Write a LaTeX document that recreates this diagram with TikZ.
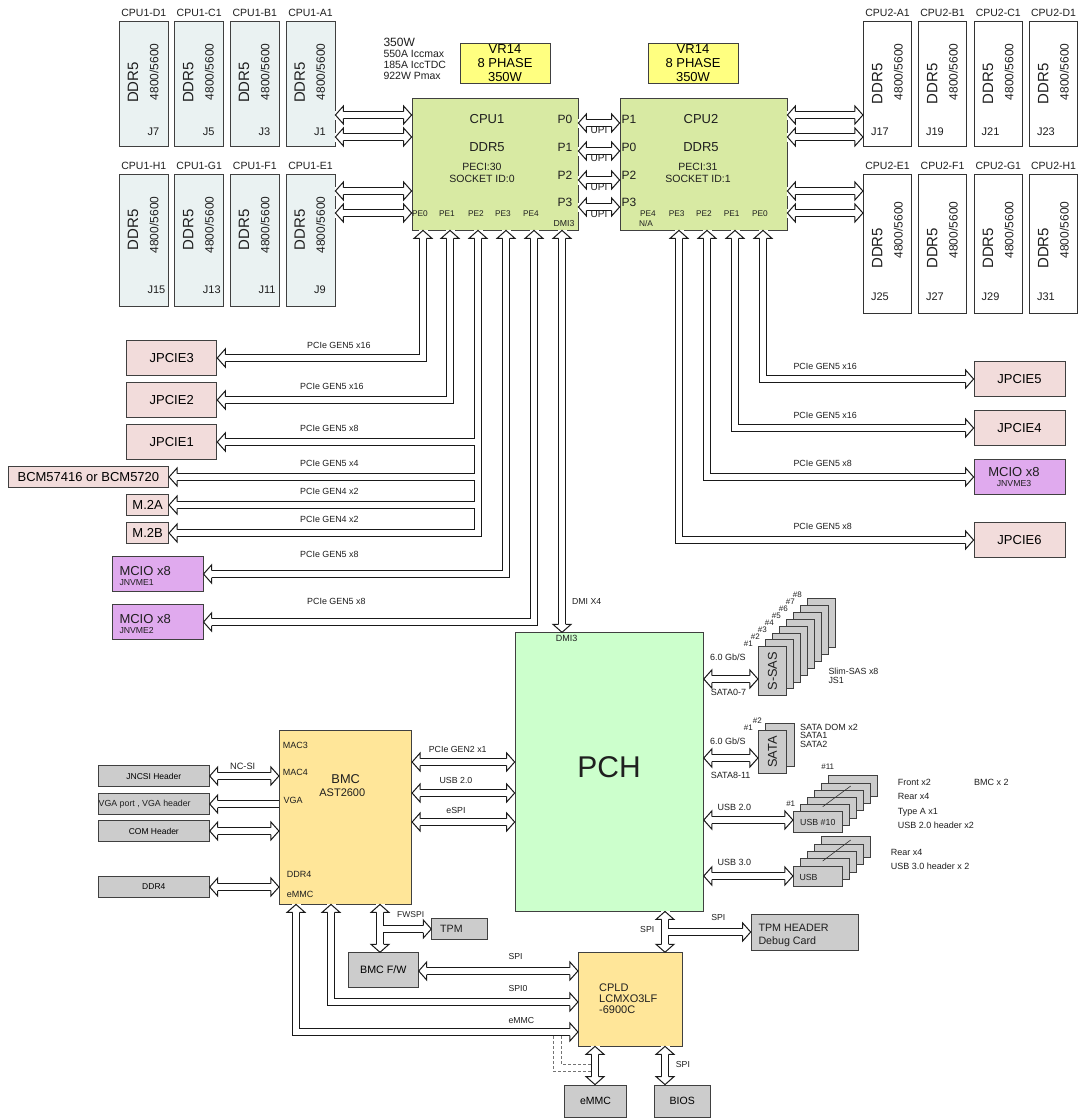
\documentclass[tikz,border=0pt]{standalone}
\usepackage{fontspec}
\setmainfont{Liberation Sans}
\definecolor{dimmfill}{RGB}{234,242,242}
\definecolor{cpufill}{RGB}{216,234,163}
\definecolor{vrfill}{RGB}{255,255,128}
\definecolor{slotfill}{RGB}{242,220,219}
\definecolor{mciofill}{RGB}{224,170,238}
\definecolor{pchfill}{RGB}{204,255,204}
\definecolor{bmcfill}{RGB}{255,230,153}
\definecolor{grayfill}{RGB}{204,204,204}
\definecolor{edge}{RGB}{64,64,64}
\newcommand\fsz[1]{\fontsize{#1}{#1}\selectfont}
% head of a bus at a point, turned by an angle
\newcommand\hdat[2]{\pic[rotate=#2] at (#1) {hd};}
% bus with heads at both ends / at the far end only
\newcommand\bibus[5]{\draw[bus] (#1) #2 (#3); \hdat{#1}{#4}\hdat{#3}{#5}}
\newcommand\unibus[4]{\draw[bus] (#1) #2 (#3); \hdat{#3}{#4}}
\tikzset{
  box/.style={draw=edge, line width=.8pt, inner sep=0pt, align=center},
  dimm/.style={box, fill=dimmfill, minimum width=49},
  dimmw/.style={box, draw=black!80, fill=white, minimum width=48.5},
  cpu/.style={box, fill=cpufill, minimum height=132},
  vr/.style={box, fill=vrfill, minimum width=90, minimum height=40, font=\fontsize{13}{14}\selectfont},
  slot/.style={box, fill=slotfill, font=\fsz{13}},
  mcio/.style={box, fill=mciofill, minimum width=90.6, minimum height=35},
  chip/.style={box, fill=bmcfill},
  gbox/.style={box, fill=grayfill},
  lbl/.style={inner sep=0pt, text=black!88},
  bus/.style={draw=white, line width=6pt, preaction={draw=black!90, line width=8pt}},
  hd/.pic={\fill[white] (-8pt,-4.5pt) rectangle (0pt,4.5pt);
    \path[draw=black!90, fill=white, line width=1pt]
    (-8pt,3.5pt) -- (-8pt,9pt) -- (0pt,0pt) -- (-8pt,-9pt) -- (-8pt,-3.5pt);},
  dashline/.style={draw=black!55, densely dashed, line width=.7pt},
}
\begin{document}
\begin{tikzpicture}[x=1pt, y=-1pt]
\useasboundingbox (0,0) rectangle (1081,1119);
\fill[white] (0,0) rectangle (1081,1119);

% memory of CPU1
\foreach \xx/\sl/\jj in {119.3/D1/J7, 174.7/C1/J5, 230.3/B1/J3, 286/A1/J1} {
  \node[dimm, minimum height=125] (c1\sl) at (\xx+24.5,84.2) {};
  \node[lbl, font=\fsz{10.5}] at (\xx+24.5,12.7) {CPU1-\sl};
  \node[lbl, rotate=90, font=\fsz{15}] at (\xx+13.7,82.5) {DDR5};
  \node[lbl, rotate=90, font=\fsz{12}] at (\xx+34.7,71.7) {4800/5600};
  \node[lbl, anchor=west, font=\fsz{11}] at (\xx+28,131.7) {\jj};
}
\foreach \xx/\sl/\jj in {119.3/H1/J15, 174.7/G1/J13, 230.3/F1/J11, 286/E1/J9} {
  \node[dimm, minimum height=132.7] (c1\sl) at (\xx+24.5,240.3) {};
  \node[lbl, font=\fsz{10.5}] at (\xx+24.5,165.7) {CPU1-\sl};
  \node[lbl, rotate=90, font=\fsz{15}] at (\xx+13.7,230) {DDR5};
  \node[lbl, rotate=90, font=\fsz{12}] at (\xx+34.7,225) {4800/5600};
  \node[lbl, anchor=west, font=\fsz{11}] at (\xx+28,290) {\jj};
}
% memory of CPU2
\foreach \xx/\sl/\jj in {863.3/A1/J17, 918.3/B1/J19, 974/C1/J21, 1029.3/D1/J23} {
  \node[dimmw, minimum height=125] (c2\sl) at (\xx+24.25,84.2) {};
  \node[lbl, font=\fsz{10.5}] at (\xx+24.25,12.7) {CPU2-\sl};
  \node[lbl, rotate=90, font=\fsz{15}] at (\xx+14,84) {DDR5};
  \node[lbl, rotate=90, font=\fsz{12}] at (\xx+35,71.7) {4800/5600};
  \node[lbl, anchor=west, font=\fsz{11}] at (\xx+7.5,131.7) {\jj};
}
\foreach \xx/\sl/\jj in {863.3/E1/J25, 918.3/F1/J27, 974/G1/J29, 1029.3/H1/J31} {
  \node[dimmw, minimum height=139.3] (c2\sl) at (\xx+24.25,243.7) {};
  \node[lbl, font=\fsz{10.5}] at (\xx+24.25,165.7) {CPU2-\sl};
  \node[lbl, rotate=90, font=\fsz{15}] at (\xx+14,248.3) {DDR5};
  \node[lbl, rotate=90, font=\fsz{12}] at (\xx+35,230) {4800/5600};
  \node[lbl, anchor=west, font=\fsz{11}] at (\xx+7.5,296.7) {\jj};
}

% power
\node[vr] (vr1) at (505,63) {VR14\\8 PHASE\\350W};
\node[vr] (vr2) at (693,63) {VR14\\8 PHASE\\350W};
\node[lbl, anchor=west, font=\fsz{12}] at (383.3,42.7) {350W};
\node[lbl, anchor=west, align=left, font=\fontsize{10.5}{10.8}\selectfont] at (383.3,65) {550A Iccmax\\185A IccTDC\\922W Pmax};

% processors
\node[cpu, minimum width=166] (cpu1) at (495,164) {};
\node[cpu, minimum width=167] (cpu2) at (703.5,164) {};
\node[lbl, font=\fsz{13}] at (487,119.3) {CPU1};
\node[lbl, font=\fsz{13}] at (487,147.3) {DDR5};
\node[lbl, font=\fsz{10.5}] at (482,166.7) {PECI:30};
\node[lbl, font=\fsz{10.5}] at (482,179) {SOCKET ID:0};
\node[lbl, font=\fsz{13}] at (701,119.3) {CPU2};
\node[lbl, font=\fsz{13}] at (701,147.3) {DDR5};
\node[lbl, font=\fsz{10.5}] at (698,166.7) {PECI:31};
\node[lbl, font=\fsz{10.5}] at (698,179) {SOCKET ID:1};
\foreach \yy/\pa/\pb in {119.3/P0/P1, 147.3/P1/P0, 175/P2/P2, 202.7/P3/P3} {
  \node[lbl, font=\fsz{12}] at (565,\yy) {\pa};
  \node[lbl, font=\fsz{12}] at (629,\yy) {\pb};
}
\foreach \xx/\pe in {420/PE0, 447/PE1, 476/PE2, 503/PE3, 531/PE4}
  \node[lbl, font=\fsz{8.3}] at (\xx,213.3) {\pe};
\foreach \xx/\pe in {648/PE4, 676.7/PE3, 704/PE2, 731.7/PE1, 760/PE0}
  \node[lbl, font=\fsz{8.3}] at (\xx,213.3) {\pe};
\node[lbl, font=\fsz{8.3}] at (646,224) {N/A};
\node[lbl, font=\fsz{8.7}] at (564,223.3) {DMI3};

% memory and UPI links
\foreach \yy in {115,137} {\bibus{c1A1.east |- 0,\yy}{--}{cpu1.west |- 0,\yy}{180}{0}}
\foreach \yy in {191,213} {\bibus{c1E1.east |- 0,\yy}{--}{cpu1.west |- 0,\yy}{180}{0}}
\foreach \yy in {115,137} {\bibus{cpu2.east |- 0,\yy}{--}{c2A1.west |- 0,\yy}{180}{0}}
\foreach \yy in {191,213} {\bibus{cpu2.east |- 0,\yy}{--}{c2E1.west |- 0,\yy}{180}{0}}
\foreach \yy in {123,151,180,207} {
  \bibus{cpu1.east |- 0,\yy}{--}{cpu2.west |- 0,\yy}{180}{0}
  \node[lbl, font=\fsz{10}] at (599,\yy+7) {UPI};
}

% PCIe devices
\node[slot, minimum width=90.3, minimum height=35] (jpcie3) at (171.7,358) {JPCIE3};
\node[slot, minimum width=90.3, minimum height=35] (jpcie2) at (171.7,400) {JPCIE2};
\node[slot, minimum width=90.3, minimum height=35] (jpcie1) at (171.7,442) {JPCIE1};
\node[slot, minimum width=160.6, minimum height=21.3] (bcm) at (88.4,477) {BCM57416 or BCM5720};
\node[slot, minimum width=42.2, minimum height=21] (m2a) at (147.6,505) {M.2A};
\node[slot, minimum width=42.2, minimum height=21] (m2b) at (147.6,533) {M.2B};
\node[mcio] (jnvme1) at (157.8,574) {};
\node[mcio] (jnvme2) at (157.8,622) {};
\node[lbl, anchor=west, font=\fsz{13}] at (119.3,570.7) {MCIO x8};
\node[lbl, anchor=west, font=\fsz{8.7}] at (119.3,582.3) {JNVME1};
\node[lbl, anchor=west, font=\fsz{13}] at (119.3,619) {MCIO x8};
\node[lbl, anchor=west, font=\fsz{8.7}] at (119.3,630.6) {JNVME2};
\node[slot, minimum width=91, minimum height=34.4] (jpcie5) at (1019.5,379) {JPCIE5};
\node[slot, minimum width=91, minimum height=34.4] (jpcie4) at (1019.5,428) {JPCIE4};
\node[mcio, minimum width=91, minimum height=34.7] (jnvme3) at (1019.5,477) {};
\node[lbl, font=\fsz{13}] at (1014,472.2) {MCIO x8};
\node[lbl, font=\fsz{8.7}] at (1014,483.5) {JNVME3};
\node[slot, minimum width=91, minimum height=35] (jpcie6) at (1019.5,540) {JPCIE6};

% PCH
\node[box, fill=pchfill, minimum width=188.3, minimum height=278.3] (pch) at (609.2,771.9) {};
\node[lbl, font=\fsz{30}] at (609,767) {PCH};
\node[lbl, font=\fsz{9}] at (566.7,638.3) {DMI3};

% CPU1 lanes
\bibus{cpu1.south -| 423,0}{|-}{jpcie3.east}{90}{180}
\bibus{cpu1.south -| 450,0}{|-}{jpcie2.east}{90}{180}
\bibus{cpu1.south -| 478,0}{|-}{m2b.east}{90}{180}
\foreach \nn in {jpcie1,bcm,m2a} {\unibus{475,0 |- \nn.east}{--}{\nn.east}{180}}
\bibus{cpu1.south -| 506,0}{|-}{jnvme1.east}{90}{180}
\bibus{cpu1.south -| 534,0}{|-}{jnvme2.east}{90}{180}
\bibus{cpu1.south -| 562,0}{--}{pch.north -| 562,0}{90}{-90}
\foreach \xx/\yy/\tx in {307/345/PCIe GEN5 x16, 300/386.7/PCIe GEN5 x16, 300/428.7/PCIe GEN5 x8,
    300/463.3/PCIe GEN5 x4, 300/491/PCIe GEN4 x2, 300/519/PCIe GEN4 x2,
    300/554/PCIe GEN5 x8, 307/601.7/PCIe GEN5 x8}
  \node[lbl, anchor=west, font=\fsz{8.9}] at (\xx,\yy) {\tx};
\node[lbl, anchor=west, font=\fsz{8.7}] at (572,601.7) {DMI X4};

% CPU2 lanes
\bibus{cpu2.south -| 763,0}{|-}{jpcie5.west}{90}{0}
\bibus{cpu2.south -| 735,0}{|-}{jpcie4.west}{90}{0}
\bibus{cpu2.south -| 707,0}{|-}{jnvme3.west}{90}{0}
\bibus{cpu2.south -| 679,0}{|-}{jpcie6.west}{90}{0}
\foreach \yy/\tx in {366/PCIe GEN5 x16, 415/PCIe GEN5 x16, 463.3/PCIe GEN5 x8, 526/PCIe GEN5 x8}
  \node[lbl, anchor=west, font=\fsz{8.9}] at (793.3,\yy) {\tx};

% storage and USB
\foreach \i in {7,...,0} \node[gbox, minimum width=28.4, minimum height=49] (sas\i) at (772.5+7*\i,671.2-6.9*\i) {};
\node[lbl, rotate=90, font=\fsz{12.8}] at (sas0) {S-SAS};
\foreach \i in {1,...,8} \node[lbl, font=\fsz{8}] at (741.3+7*\i,650.2-6.9*\i) {\#\i};
\foreach \i in {1,0} \node[gbox, minimum width=28.4, minimum height=42.6] (sata\i) at (772.5+7.5*\i,752-7.4*\i) {};
\node[lbl, rotate=90, font=\fsz{12.8}] at (sata0) {SATA};
\node[lbl, font=\fsz{8}] at (748.3,727.3) {\#1};
\node[lbl, font=\fsz{8}] at (757.3,720.7) {\#2};
\foreach \i in {5,...,0} \node[gbox, minimum width=49, minimum height=20.6] (usbb\i) at (817.8+7*\i,822-7.2*\i) {};
\draw[black!80, line width=.6pt] (822.7,806.7) -- (850.7,786);
\node[lbl, font=\fsz{8.8}] at (usbb0) {USB \#10};
\node[lbl, font=\fsz{8}] at (827.7,766.7) {\#11};
\node[lbl, font=\fsz{8}] at (790.7,804) {\#1};
\foreach \i in {4,...,0} \node[gbox, minimum width=49, minimum height=20.6] (usbc\i) at (817.8+7*\i,876.3-7.3*\i) {};
\draw[black!80, line width=.6pt] (822.7,861) -- (850.7,840);
\node[lbl, anchor=west, font=\fsz{8.8}] at (799.3,877.7) {USB};

\bibus{pch.east |- 0,679}{--}{sas0.west |- 0,679}{180}{0}
\bibus{pch.east |- 0,758}{--}{sata0.west |- 0,758}{180}{0}
\bibus{pch.east |- 0,820}{--}{usbb0.west |- 0,820}{180}{0}
\bibus{pch.east |- 0,876}{--}{usbc0.west |- 0,876}{180}{0}
\node[lbl, anchor=west, font=\fsz{9}] at (710,657.7) {6.0 Gb/S};
\node[lbl, anchor=west, font=\fsz{9}] at (710.7,692.7) {SATA0-7};
\node[lbl, anchor=west, font=\fsz{9}] at (710,741) {6.0 Gb/S};
\node[lbl, anchor=west, font=\fsz{9}] at (710.7,775.7) {SATA8-11};
\node[lbl, anchor=west, font=\fsz{9}] at (717.3,807.7) {USB 2.0};
\node[lbl, anchor=west, font=\fsz{9}] at (717.3,862.7) {USB 3.0};
\node[lbl, anchor=west, align=left, font=\fontsize{8.9}{8.3}\selectfont] at (828.3,675.9) {Slim-SAS x8\\JS1};
\node[lbl, anchor=west, align=left, font=\fontsize{9}{8.5}\selectfont] at (800,735.7) {SATA DOM x2\\SATA1\\SATA2};
\node[lbl, anchor=west, align=left, font=\fontsize{9}{14.1}\selectfont] at (897.7,803.9) {Front x2\\Rear x4\\Type A x1\\USB 2.0 header x2};
\node[lbl, anchor=west, font=\fsz{9}] at (974,782.7) {BMC x 2};
\node[lbl, anchor=west, align=left, font=\fontsize{9}{14}\selectfont] at (890.7,859.7) {Rear x4\\USB 3.0 header x 2};

% BMC
\node[chip, minimum width=132.4, minimum height=174] (bmc) at (345.5,817) {};
\node[lbl, font=\fsz{12.8}] at (345.7,779) {BMC};
\node[lbl, font=\fsz{11}] at (342.3,792.7) {AST2600};
\foreach \xx/\yy/\tx in {282.7/745/MAC3, 282.7/772.7/MAC4, 283.3/800.7/VGA, 286.7/874/DDR4, 286.7/894/eMMC}
  \node[lbl, anchor=west, font=\fsz{9}] at (\xx,\yy) {\tx};
\node[gbox, minimum width=111, minimum height=20.3, font=\fsz{8.5}] (jncsi) at (153.8,776) {JNCSI Header};
\node[gbox, minimum width=111, minimum height=20.7] (vga) at (153.8,804) {};
\node[lbl, anchor=west, font=\fsz{8.8}] at (98.5,804) {VGA port , VGA header};
\node[gbox, minimum width=111, minimum height=20.7, font=\fsz{8.5}] (com) at (153.8,831) {COM Header};
\node[gbox, minimum width=111, minimum height=20.6, font=\fsz{8.5}] (ddrfour) at (153.8,887) {DDR4};
\bibus{jncsi.east}{--}{bmc.west |- jncsi.east}{180}{0}
\unibus{bmc.west |- vga.east}{--}{vga.east}{180}
\bibus{com.east}{--}{bmc.west |- com.east}{180}{0}
\bibus{ddrfour.east}{--}{bmc.west |- ddrfour.east}{180}{0}
\node[lbl, font=\fsz{9.2}] at (242.7,766) {NC-SI};
\bibus{bmc.east |- 0,762}{--}{pch.west |- 0,762}{180}{0}
\bibus{bmc.east |- 0,793}{--}{pch.west |- 0,793}{180}{0}
\bibus{bmc.east |- 0,822}{--}{pch.west |- 0,822}{180}{0}
\node[lbl, font=\fsz{8.8}] at (457.7,749.3) {PCIe GEN2 x1};
\node[lbl, font=\fsz{8.8}] at (456,780.7) {USB 2.0};
\node[lbl, font=\fsz{8.8}] at (456,810) {eSPI};

% flash, CPLD and bottom parts
\node[gbox, minimum width=56, minimum height=21.6] (tpm) at (459.7,929) {};
\node[lbl, anchor=west, font=\fsz{10.6}] at (440,929) {TPM};
\node[gbox, minimum width=70, minimum height=34.6, font=\fsz{10.7}] (bmcfw) at (383.3,970) {BMC F/W};
\node[chip, minimum width=104.4, minimum height=93.3] (cpld) at (630.5,999.3) {};
\node[lbl, anchor=west, align=left, font=\fontsize{11}{11}\selectfont] at (599,998.3) {CPLD\\LCMXO3LF\\-6900C};
\node[gbox, minimum width=107.3, minimum height=36] (tpmh) at (804.7,932) {};
\node[lbl, anchor=west, align=left, font=\fontsize{10.7}{12.4}\selectfont] at (758.3,935.5) {TPM HEADER\\Debug Card};
\node[gbox, minimum width=62.4, minimum height=32, font=\fsz{10.5}] (emmc) at (595.5,1101) {eMMC};
\node[gbox, minimum width=55.7, minimum height=32, font=\fsz{10.5}] (bios) at (682.2,1101) {BIOS};

\bibus{bmc.south -| 380,0}{--}{bmcfw.north -| 380,0}{90}{-90}
\unibus{383,0 |- tpm.west}{--}{tpm.west}{0}
\node[lbl, anchor=west, font=\fsz{8.5}] at (397,914.5) {FWSPI};
\bibus{bmcfw.east |- 0,971}{--}{cpld.west |- 0,971}{180}{0}
\bibus{bmc.south -| 331,0}{|-}{cpld.west |- 0,1002}{90}{0}
\bibus{bmc.south -| 296,0}{|-}{cpld.west |- 0,1032}{90}{0}
\node[lbl, anchor=west, font=\fsz{8.7}] at (508.3,956.7) {SPI};
\node[lbl, anchor=west, font=\fsz{8.7}] at (508.3,988.3) {SPI0};
\node[lbl, anchor=west, font=\fsz{8.7}] at (508.3,1020) {eMMC};
\bibus{pch.south -| 665,0}{--}{cpld.north -| 665,0}{90}{-90}
\unibus{668,0 |- tpmh.west}{--}{tpmh.west}{0}
\node[lbl, anchor=west, font=\fsz{8.7}] at (640,929) {SPI};
\node[lbl, font=\fsz{8.7}] at (718.3,917.3) {SPI};
\bibus{cpld.south -| 595,0}{--}{emmc.north -| 595,0}{90}{-90}
\bibus{cpld.south -| 665,0}{--}{bios.north -| 665,0}{90}{-90}
\node[lbl, anchor=west, font=\fsz{8.7}] at (675.7,1064.3) {SPI};
\draw[dashline] (553,1036) |- (591,1071);
\draw[dashline] (561,1036) |- (591,1064);
\end{tikzpicture}
\end{document}
